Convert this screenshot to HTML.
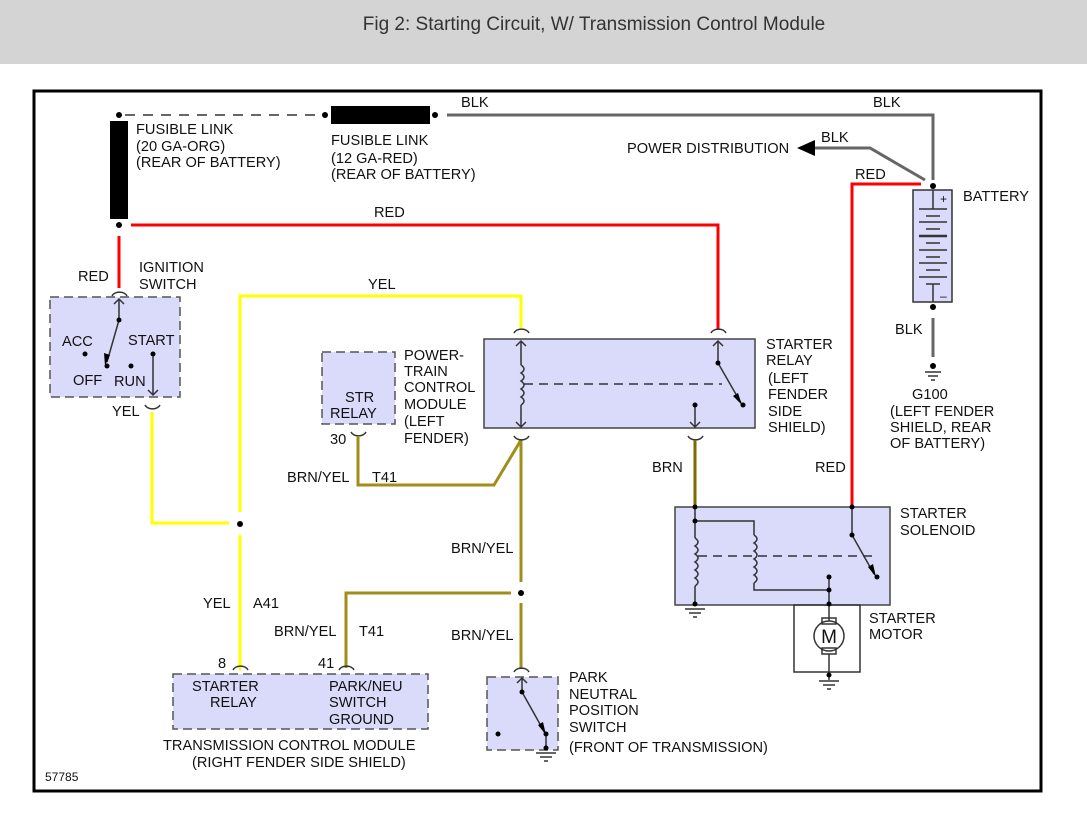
<!DOCTYPE html>
<html><head><meta charset="utf-8"><style>
html,body{margin:0;padding:0;background:#fff;}
svg{display:block;font-family:"Liberation Sans",sans-serif;}
text{font-size:14.6px;fill:#111;}
</style></head><body>
<svg width="1087" height="813" viewBox="0 0 1087 813">
<rect x="0" y="0" width="1087" height="64" fill="#d4d4d4"/>
<text x="594" y="30" text-anchor="middle" style="font-size:19px;fill:#333">Fig 2: Starting Circuit, W/ Transmission Control Module</text>
<rect x="34" y="91" width="1007" height="700" fill="#fff" stroke="#000" stroke-width="3"/>

<!-- fuse links -->
<line x1="125" y1="115" x2="322" y2="115" stroke="#333" stroke-width="1.5" stroke-dasharray="10,8"/>
<rect x="331" y="106" width="99" height="18" fill="#000"/>
<rect x="110" y="121" width="18" height="98" fill="#000"/>
<g fill="#000"><circle cx="119" cy="115" r="3"/><circle cx="325" cy="115" r="3"/><circle cx="435" cy="115" r="3"/><circle cx="119" cy="225" r="3"/><circle cx="933" cy="186" r="3"/><circle cx="933" cy="307" r="3"/><circle cx="933" cy="366" r="3"/></g>
<polyline points="447,115 933,115 933,180" fill="none" stroke="#666" stroke-width="3"/>
<text x="461" y="107">BLK</text><text x="873" y="107">BLK</text>
<text x="136" y="134">FUSIBLE LINK</text><text x="136" y="151">(20 GA-ORG)</text><text x="136" y="167">(REAR OF BATTERY)</text>
<text x="331" y="145">FUSIBLE LINK</text><text x="331" y="163">(12 GA-RED)</text><text x="331" y="179">(REAR OF BATTERY)</text>

<!-- power distribution -->
<polyline points="813,148 870,148 925,180" fill="none" stroke="#666" stroke-width="3"/>
<polygon points="797,148 815,140 815,156" fill="#000"/>
<text x="627" y="153">POWER DISTRIBUTION</text><text x="821" y="142">BLK</text>

<!-- red wires -->
<polyline points="131,225 718,225 718,330" fill="none" stroke="#f00" stroke-width="3"/>
<line x1="119" y1="236" x2="119" y2="288" stroke="#f00" stroke-width="3"/>
<polyline points="921,184 852,184 852,506" fill="none" stroke="#f00" stroke-width="3"/>
<text x="374" y="217">RED</text><text x="78" y="281">RED</text><text x="855" y="179">RED</text><text x="815" y="472">RED</text>

<!-- battery -->
<rect x="913" y="190" width="39" height="112" fill="#dadafa" stroke="#333" stroke-width="1.5"/>
<g stroke="#333" stroke-width="1.5">
<line x1="933" y1="190" x2="933" y2="209"/><line x1="919" y1="209" x2="947" y2="209"/>
<line x1="926" y1="216" x2="940" y2="216"/><line x1="919" y1="222" x2="947" y2="222"/>
<line x1="926" y1="229" x2="940" y2="229"/><line x1="919" y1="236" x2="947" y2="236" stroke-width="2.5"/>
<line x1="926" y1="243" x2="940" y2="243"/><line x1="919" y1="250" x2="947" y2="250"/>
<line x1="926" y1="257" x2="940" y2="257"/><line x1="919" y1="263" x2="947" y2="263"/>
<line x1="926" y1="270" x2="940" y2="270"/><line x1="919" y1="277" x2="947" y2="277"/>
<line x1="926" y1="284" x2="940" y2="284"/><line x1="933" y1="284" x2="933" y2="302"/>
</g>
<text x="940" y="203" style="font-size:12px">+</text><text x="940" y="300" style="font-size:12px">–</text>
<text x="963" y="201">BATTERY</text>
<line x1="933" y1="318" x2="933" y2="357" stroke="#666" stroke-width="3"/>
<text x="895" y="334">BLK</text>
<g stroke="#333" stroke-width="1.5"><line x1="925" y1="372" x2="941" y2="372"/><line x1="928" y1="376" x2="938" y2="376"/><line x1="931" y1="380" x2="935" y2="380"/></g>
<text x="912" y="399">G100</text><text x="890" y="416">(LEFT FENDER</text><text x="890" y="432">SHIELD, REAR</text><text x="890" y="448">OF BATTERY)</text>

<!-- ignition switch -->
<rect x="50" y="297" width="130" height="100" fill="#dadafa" stroke="#555" stroke-width="1.5" stroke-dasharray="9,5"/>
<path d="M112,296 A8,6 0 0 1 127,296" fill="none" stroke="#333" stroke-width="1.5"/>
<g stroke="#333" stroke-width="1.5" fill="none"><line x1="119" y1="299" x2="119" y2="320"/><polyline points="114,304 119,299 124,304"/><line x1="119" y1="320" x2="107" y2="362"/>
<line x1="153" y1="354" x2="153" y2="395"/><polyline points="148,390 153,395 158,390"/></g>
<path d="M145,405 A8,6 0 0 0 160,405" fill="none" stroke="#333" stroke-width="1.5"/>
<polygon points="105,366 104,353 110,355" fill="#000"/>
<g fill="#000"><circle cx="119" cy="320" r="2.5"/><circle cx="85" cy="354" r="2.5"/><circle cx="107" cy="366" r="2.5"/><circle cx="131" cy="366" r="2.5"/><circle cx="153" cy="354" r="2.5"/></g>
<text x="139" y="272">IGNITION</text><text x="139" y="289">SWITCH</text>
<text x="62" y="346">ACC</text><text x="128" y="345">START</text><text x="73" y="385">OFF</text><text x="114" y="386">RUN</text>
<text x="112" y="416">YEL</text>

<!-- yellow wires -->
<g stroke="#ff0" stroke-width="3" fill="none">
<polyline points="152,412 152,523 229,523"/>
<polyline points="240,512 240,296 521,296 521,328"/>
<line x1="240" y1="535" x2="240" y2="670"/>
</g>
<circle cx="240" cy="524" r="3" fill="#000"/>
<text x="368" y="289">YEL</text><text x="203" y="608">YEL</text><text x="253" y="608">A41</text>

<!-- PCM -->
<rect x="322" y="352" width="73" height="72" fill="#dadafa" stroke="#555" stroke-width="1.5" stroke-dasharray="9,5"/>
<text x="345" y="402">STR</text><text x="330" y="418">RELAY</text>
<text x="404" y="360">POWER-</text><text x="404" y="376">TRAIN</text><text x="404" y="392">CONTROL</text><text x="404" y="409">MODULE</text><text x="404" y="426">(LEFT</text><text x="404" y="443">FENDER)</text>
<text x="330" y="444">30</text>
<path d="M351,432 A8,6 0 0 0 366,432" fill="none" stroke="#333" stroke-width="1.5"/>

<!-- brn/yel -->
<g stroke="#a08e1a" stroke-width="3" fill="none">
<polyline points="358,436 358,485 494,485 521,440"/>
<line x1="521" y1="440" x2="521" y2="582"/>
<line x1="521" y1="603" x2="521" y2="668"/>
<polyline points="511,593 346,593 346,668"/>
</g>
<circle cx="521" cy="593" r="3" fill="#000"/>
<text x="287" y="482">BRN/YEL</text><text x="372" y="482">T41</text>
<text x="451" y="553">BRN/YEL</text><text x="274" y="636">BRN/YEL</text><text x="359" y="636">T41</text><text x="451" y="640">BRN/YEL</text>

<!-- starter relay -->
<rect x="484" y="339" width="271" height="89" fill="#dadafa" stroke="#444" stroke-width="1.5"/>
<g stroke="#333" stroke-width="1.5" fill="none">
<path d="M514,333 A8,6 0 0 1 529,333"/><path d="M711,333 A8,6 0 0 1 726,333"/>
<path d="M514,436 A8,6 0 0 0 529,436"/><path d="M688,436 A8,6 0 0 0 703,436"/>
<line x1="521" y1="341" x2="521" y2="365"/><polyline points="516,346 521,341 526,346"/>
<path d="M521,365 q6,4 0,8 q6,4 0,8 q6,4 0,8 q6,4 0,8 q6,4 0,8"/>
<line x1="521" y1="405" x2="521" y2="427"/><polyline points="516,422 521,427 526,422"/>
<line x1="524" y1="384" x2="722" y2="384" stroke-dasharray="9,6"/>
<line x1="718" y1="341" x2="718" y2="363"/><polyline points="713,346 718,341 723,346"/>
<line x1="718" y1="363" x2="741" y2="403"/>
<line x1="695" y1="405" x2="695" y2="427"/><polyline points="690,422 695,427 700,422"/>
</g>
<polygon points="742,405 733,396 738,393" fill="#000"/>
<g fill="#000"><circle cx="718" cy="363" r="2.5"/><circle cx="743" cy="405" r="2.5"/><circle cx="695" cy="405" r="2.5"/></g>
<text x="766" y="349">STARTER</text><text x="766" y="365">RELAY</text><text x="768" y="383">(LEFT</text><text x="768" y="399">FENDER</text><text x="768" y="416">SIDE</text><text x="768" y="432">SHIELD)</text>

<line x1="695" y1="440" x2="695" y2="507" stroke="#7d6a00" stroke-width="3"/>
<text x="652" y="472">BRN</text>

<!-- solenoid -->
<rect x="675" y="507" width="215" height="98" fill="#dadafa" stroke="#444" stroke-width="1.5"/>
<g stroke="#333" stroke-width="1.5" fill="none">
<line x1="695" y1="507" x2="695" y2="538"/>
<path d="M695,538 q6,4 0,8 q6,4 0,8 q6,4 0,8 q6,4 0,8 q6,4 0,8 q6,4 0,8"/>
<line x1="695" y1="586" x2="695" y2="605"/>
<polyline points="695,521 754,521 754,535"/>
<path d="M754,535 q6,4 0,8 q6,4 0,8 q6,4 0,8 q6,4 0,8 q6,4 0,8 q6,4 0,8"/>
<polyline points="754,583 754,590 829,590"/>
<line x1="698" y1="556" x2="872" y2="556" stroke-dasharray="9,6"/>
<line x1="852" y1="507" x2="852" y2="535"/><line x1="852" y1="535" x2="874" y2="574"/>
<line x1="829" y1="577" x2="829" y2="605"/>
<rect x="794" y="605" width="66" height="67"/>
<line x1="829" y1="605" x2="829" y2="621"/><rect x="822" y="618" width="14" height="6"/>
<circle cx="829" cy="636" r="15"/>
<rect x="822" y="648" width="14" height="6"/><line x1="829" y1="654" x2="829" y2="672"/>
<line x1="829" y1="672" x2="829" y2="680"/>
<line x1="685" y1="609" x2="705" y2="609"/><line x1="689" y1="613" x2="701" y2="613"/><line x1="693" y1="617" x2="697" y2="617"/>
<line x1="819" y1="681" x2="839" y2="681"/><line x1="823" y1="685" x2="835" y2="685"/><line x1="827" y1="689" x2="831" y2="689"/>
</g>
<text x="829" y="643" text-anchor="middle" style="font-size:19px">M</text>
<polygon points="876,577 868,567 873,564" fill="#000"/>
<g fill="#000"><circle cx="695" cy="507" r="2.5"/><circle cx="695" cy="521" r="2.5"/><circle cx="695" cy="604" r="2.5"/><circle cx="852" cy="507" r="2.5"/><circle cx="852" cy="535" r="2.5"/><circle cx="877" cy="577" r="2.5"/><circle cx="829" cy="577" r="2.5"/><circle cx="829" cy="590" r="2.5"/><circle cx="829" cy="604" r="2.5"/><circle cx="829" cy="675" r="2.5"/></g>
<text x="900" y="518">STARTER</text><text x="900" y="535">SOLENOID</text>
<text x="869" y="623">STARTER</text><text x="869" y="639">MOTOR</text>

<!-- TCM -->
<rect x="173" y="674" width="255" height="55" fill="#dadafa" stroke="#555" stroke-width="1.5" stroke-dasharray="9,5"/>
<path d="M233,670 A8,6 0 0 1 248,670" fill="none" stroke="#333" stroke-width="1.5"/>
<path d="M339,670 A8,6 0 0 1 354,670" fill="none" stroke="#333" stroke-width="1.5"/>
<text x="218" y="668">8</text><text x="318" y="668">41</text>
<text x="192" y="691">STARTER</text><text x="210" y="707">RELAY</text>
<text x="329" y="691">PARK/NEU</text><text x="329" y="707">SWITCH</text><text x="329" y="724">GROUND</text>
<text x="163" y="750">TRANSMISSION CONTROL MODULE</text><text x="192" y="767">(RIGHT FENDER SIDE SHIELD)</text>

<!-- PNP -->
<rect x="487" y="677" width="71" height="73" fill="#dadafa" stroke="#555" stroke-width="1.5" stroke-dasharray="9,5"/>
<g stroke="#333" stroke-width="1.5" fill="none">
<path d="M514,672 A8,6 0 0 1 529,672"/>
<line x1="522" y1="678" x2="522" y2="692"/><polyline points="517,683 522,678 527,683"/>
<line x1="522" y1="692" x2="545" y2="733"/><line x1="546" y1="734" x2="546" y2="750"/>
<line x1="536" y1="753" x2="556" y2="753"/><line x1="540" y1="757" x2="552" y2="757"/><line x1="544" y1="761" x2="548" y2="761"/>
</g>
<polygon points="546,735 538,725 543,722" fill="#000"/>
<g fill="#000"><circle cx="522" cy="692" r="2.5"/><circle cx="546" cy="734" r="2.5"/><circle cx="546" cy="748" r="2.5"/><circle cx="498" cy="734" r="2.5"/></g>
<text x="569" y="682">PARK</text><text x="569" y="699">NEUTRAL</text><text x="569" y="715">POSITION</text><text x="569" y="732">SWITCH</text><text x="569" y="752">(FRONT OF TRANSMISSION)</text>

<text x="45" y="781" style="font-size:12px">57785</text>
</svg>
</body></html>
